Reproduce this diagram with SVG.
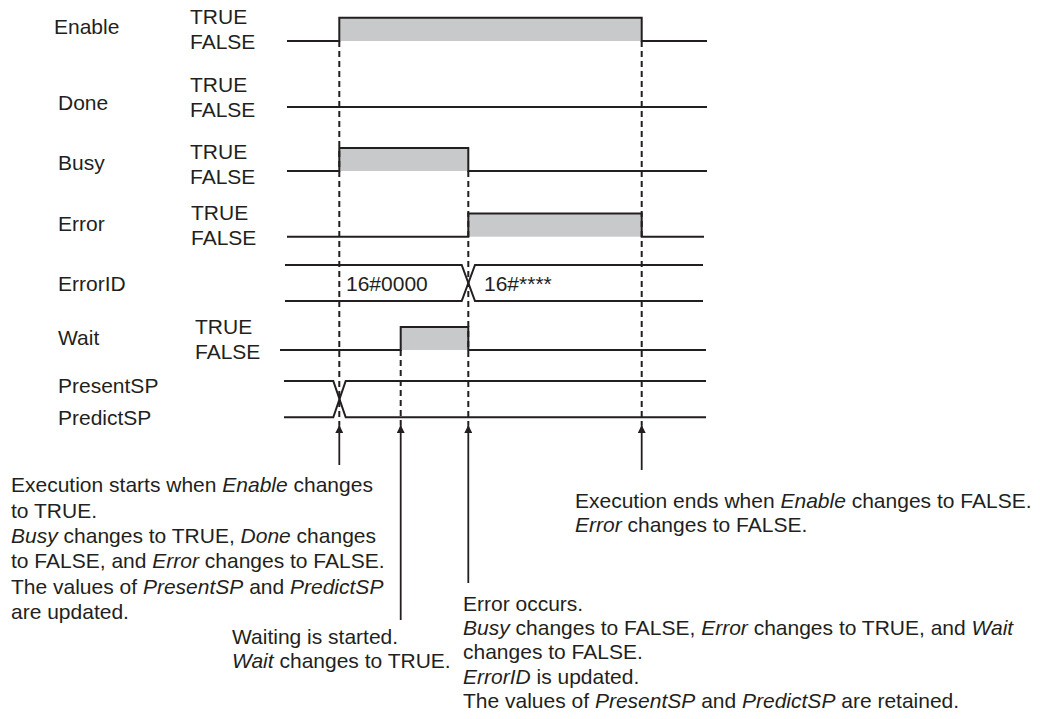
<svg xmlns="http://www.w3.org/2000/svg" width="1040" height="719" viewBox="0 0 1040 719">
<defs>
<style>
text{font-family:"Liberation Sans",Arial,sans-serif;font-size:21px;fill:#231f20}
.i{font-style:italic}
.sig{fill:none;stroke:#231f20;stroke-width:2}
.sh{fill:#c8c9ca;stroke:none}
.dash{fill:none;stroke:#231f20;stroke-width:2;stroke-dasharray:6 4}
.arr{fill:none;stroke:#231f20;stroke-width:1.8}
</style>
<marker id="ah" viewBox="0 0 10 10" refX="10" refY="5" markerWidth="9" markerHeight="8" markerUnits="userSpaceOnUse" orient="auto">
<path d="M0,0 L10,5 L0,10 z" fill="#231f20"/>
</marker>
</defs>
<rect width="1040" height="719" fill="#ffffff"/>

<g id="enable">
<text x="54" y="34">Enable</text>
<text x="190" y="24">TRUE</text>
<text x="190" y="49">FALSE</text>
<rect class="sh" x="339.3" y="17.7" width="302.4" height="23.3"/>
<path class="sig" d="M287,41 H339.3 V17.7 H641.7 V41 H707"/>
</g>
<g id="done">
<text x="58" y="110">Done</text>
<text x="190" y="92">TRUE</text>
<text x="190" y="117">FALSE</text>
<path class="sig" d="M287,107 H707"/>
</g>
<g id="busy">
<text x="58" y="170">Busy</text>
<text x="190" y="159">TRUE</text>
<text x="190" y="184">FALSE</text>
<rect class="sh" x="339.3" y="148" width="129" height="23"/>
<path class="sig" d="M287,171 H339.3 V148 H468.3 V171 H707"/>
</g>
<g id="error">
<text x="58" y="231">Error</text>
<text x="191" y="220">TRUE</text>
<text x="191" y="245">FALSE</text>
<rect class="sh" x="468.3" y="213.5" width="173.4" height="23.2"/>
<path class="sig" d="M287,236.7 H468.3 V213.5 H641.7 V236.7 H704"/>
</g>
<g id="errorid">
<text x="58" y="291">ErrorID</text>
<path class="sig" d="M285,265 H461.7 L475,301 H703"/>
<path class="sig" d="M285,301 H461.7 L475,265 H703"/>
<text x="346" y="291">16#0000</text>
<text x="484" y="291">16#****</text>
</g>
<g id="wait">
<text x="58" y="345">Wait</text>
<text x="195" y="334">TRUE</text>
<text x="195" y="359">FALSE</text>
<rect class="sh" x="400.7" y="327" width="67.6" height="23"/>
<path class="sig" d="M280,350 H400.7 V327 H468.3 V350 H706"/>
</g>
<g id="sp">
<text x="58" y="393">PresentSP</text>
<text x="58" y="425">PredictSP</text>
<path class="sig" d="M284,381 H333.3 L345.7,417.3 H706"/>
<path class="sig" d="M284,417.3 H333.3 L345.7,381 H706"/>
</g>

<g id="connectors">
<path class="dash" d="M339.3,41 V425"/>
<path class="dash" d="M400.7,350 V425"/>
<path class="dash" d="M468.3,171 V425"/>
<path class="dash" d="M641.7,41 V425"/>
<path class="arr" d="M339.3,465 V425" marker-end="url(#ah)"/>
<path class="arr" d="M400.7,620 V425" marker-end="url(#ah)"/>
<path class="arr" d="M468.3,583 V425" marker-end="url(#ah)"/>
<path class="arr" d="M641.7,470 V425" marker-end="url(#ah)"/>
</g>

<g id="note-start">
<text x="11" y="492">Execution starts when <tspan class="i">Enable</tspan> changes</text>
<text x="11" y="517.5">to TRUE.</text>
<text x="11" y="543"><tspan class="i">Busy</tspan> changes to TRUE, <tspan class="i">Done</tspan> changes</text>
<text x="11" y="568">to FALSE, and <tspan class="i">Error</tspan> changes to FALSE.</text>
<text x="11" y="593.5">The values of <tspan class="i">PresentSP</tspan> and <tspan class="i">PredictSP</tspan></text>
<text x="11" y="619">are updated.</text>
</g>
<g id="note-wait">
<text x="232" y="644">Waiting is started.</text>
<text x="232" y="668"><tspan class="i">Wait</tspan> changes to TRUE.</text>
</g>
<g id="note-error">
<text x="463" y="611">Error occurs.</text>
<text x="463" y="635"><tspan class="i">Busy</tspan> changes to FALSE, <tspan class="i">Error</tspan> changes to TRUE, and <tspan class="i">Wait</tspan></text>
<text x="463" y="659">changes to FALSE.</text>
<text x="463" y="684"><tspan class="i">ErrorID</tspan> is updated.</text>
<text x="463" y="708">The values of <tspan class="i">PresentSP</tspan> and <tspan class="i">PredictSP</tspan> are retained.</text>
</g>
<g id="note-end">
<text x="575" y="508">Execution ends when <tspan class="i">Enable</tspan> changes to FALSE.</text>
<text x="575" y="532"><tspan class="i">Error</tspan> changes to FALSE.</text>
</g>
</svg>
